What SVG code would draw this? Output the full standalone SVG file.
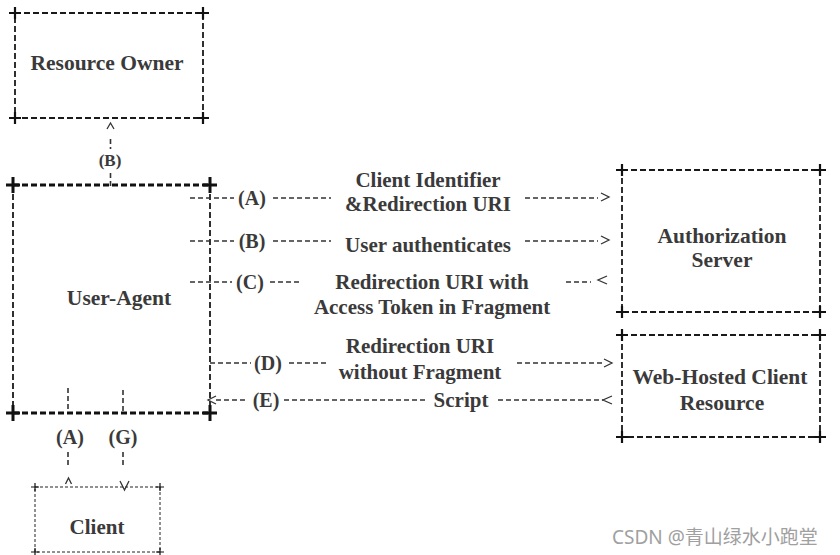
<svg xmlns="http://www.w3.org/2000/svg" width="840" height="555" viewBox="0 0 840 555">
<style>
  .lbl{font-family:"Liberation Serif","Times New Roman",serif;font-weight:bold;fill:#3a3a3a;text-anchor:middle}
  .big{font-size:21.5px}
  .mid{font-size:21px}
  .sm{font-size:20px}
  .xs{font-size:17px}
  .box{fill:none;stroke:#1a1a1a;stroke-width:1.8;stroke-dasharray:6 3}
  .thick{fill:none;stroke:#111;stroke-width:3;stroke-dasharray:6 3}
  .thin{fill:none;stroke:#222;stroke-width:1;stroke-dasharray:3 2}
  .cross{stroke:#111;stroke-width:2.2;fill:none}
  .crossT{stroke:#111;stroke-width:3;fill:none}
  .crossS{stroke:#111;stroke-width:1.2;fill:none}
  .cn{fill:none;stroke:#333;stroke-width:1.6;stroke-dasharray:5 3}
  .hd{fill:none;stroke:#333;stroke-width:1.3}
  .wm{font-family:"Noto Sans","Noto Sans CJK SC",sans-serif;font-size:19px;fill:#a0a0a0}
</style>
<defs>
  <path id="plus" d="M-6 0H6M0 -6V6"/>
  <path id="plusL" d="M-7 0H7M0 -8V8"/>
  <path id="plusS" d="M-4 0H4M0 -4V4"/>
</defs>

<g id="resource-owner">
  <rect class="box" x="15" y="13" width="188" height="105"/>
  <use href="#plus" class="cross" x="15" y="13"/>
  <use href="#plus" class="cross" x="203" y="13"/>
  <use href="#plus" class="cross" x="15" y="118"/>
  <use href="#plus" class="cross" x="203" y="118"/>
  <text class="lbl big" x="107" y="70">Resource Owner</text>
</g>

<g id="user-agent">
  <path class="box" d="M13 185V413M210 185V413"/>
  <path class="thick" d="M13 185H210M13 413H210"/>
  <use href="#plusL" class="crossT" x="13" y="185"/>
  <use href="#plusL" class="crossT" x="210" y="185"/>
  <use href="#plusL" class="crossT" x="13" y="413"/>
  <use href="#plusL" class="crossT" x="210" y="413"/>
  <text class="lbl big" x="119" y="305">User-Agent</text>
</g>

<g id="authorization-server">
  <rect class="box" x="622" y="170" width="198" height="142"/>
  <use href="#plus" class="cross" x="622" y="170"/>
  <use href="#plus" class="cross" x="820" y="170"/>
  <use href="#plus" class="cross" x="622" y="312"/>
  <use href="#plus" class="cross" x="820" y="312"/>
  <text class="lbl big" x="722" y="243">Authorization</text>
  <text class="lbl big" x="722" y="267">Server</text>
</g>

<g id="web-hosted-client-resource">
  <rect class="box" x="622" y="335" width="198" height="102"/>
  <use href="#plus" class="cross" x="622" y="335"/>
  <use href="#plus" class="cross" x="820" y="335"/>
  <use href="#plus" class="cross" x="622" y="437"/>
  <use href="#plus" class="cross" x="820" y="437"/>
  <text class="lbl big" x="720" y="384">Web-Hosted Client</text>
  <text class="lbl big" x="722" y="410">Resource</text>
</g>

<g id="client">
  <rect class="thin" x="35" y="487" width="125" height="65"/>
  <use href="#plusS" class="crossS" x="35" y="487"/>
  <use href="#plusS" class="crossS" x="160" y="487"/>
  <use href="#plusS" class="crossS" x="35" y="552"/>
  <use href="#plusS" class="crossS" x="160" y="552"/>
  <text class="lbl mid" x="97" y="534">Client</text>
</g>

<g id="connectors">
  <!-- (B) resource owner <-> user agent -->
  <path class="hd" d="M107 129L110.5 123L114 129"/>
  <path class="cn" d="M110.5 139V149M110.5 173V186"/>
  <text class="lbl xs" x="110" y="166">(B)</text>

  <!-- (A) -->
  <path class="cn" d="M190 198H234M273 198H331M525 198H598"/>
  <text class="lbl sm" x="252" y="205">(A)</text>
  <text class="lbl mid" x="428" y="187">Client Identifier</text>
  <text class="lbl mid" x="428" y="211">&amp;Redirection URI</text>
  <path class="hd" d="M601 193L609 197L601 201"/>

  <!-- (B) -->
  <path class="cn" d="M190 241H234M273 241H331M525 241H598"/>
  <text class="lbl sm" x="252" y="248">(B)</text>
  <text class="lbl mid" x="428" y="252">User authenticates</text>
  <path class="hd" d="M601 236L609 240L601 244"/>

  <!-- (C) -->
  <path class="cn" d="M190 282H232M270 282H300M566 282H591"/>
  <text class="lbl sm" x="250" y="289">(C)</text>
  <text class="lbl mid" x="432" y="289">Redirection URI with</text>
  <text class="lbl mid" x="432" y="314">Access Token in Fragment</text>
  <path class="hd" d="M607 276L598 280L607 284"/>

  <!-- (D) -->
  <path class="cn" d="M210 363H251M289 363H328M517 363H603"/>
  <text class="lbl sm" x="268" y="370">(D)</text>
  <text class="lbl mid" x="420" y="353">Redirection URI</text>
  <text class="lbl mid" x="420" y="379">without Fragment</text>
  <path class="hd" d="M604 359L612 363L604 367"/>

  <!-- (E) -->
  <path class="cn" d="M216 400H248M284 400H426M498 400H603"/>
  <path class="hd" d="M216 396L208 400L216 404"/>
  <text class="lbl sm" x="266" y="407">(E)</text>
  <text class="lbl mid" x="461" y="407">Script</text>
  <path class="hd" d="M612 396L603 400L612 404"/>

  <!-- (A) (G) user agent <-> client -->
  <path class="cn" d="M68 388V410M123 390V412M68 452V466M123 452V466"/>
  <text class="lbl sm" x="70" y="444">(A)</text>
  <text class="lbl sm" x="123" y="444">(G)</text>
  <path class="hd" d="M65.5 484L68.5 478L71.5 484"/>
  <path class="hd" d="M120 481L124.5 490L129 481"/>
</g>

<text class="wm" x="612" y="544">CSDN @青山绿水小跑堂</text>
</svg>
